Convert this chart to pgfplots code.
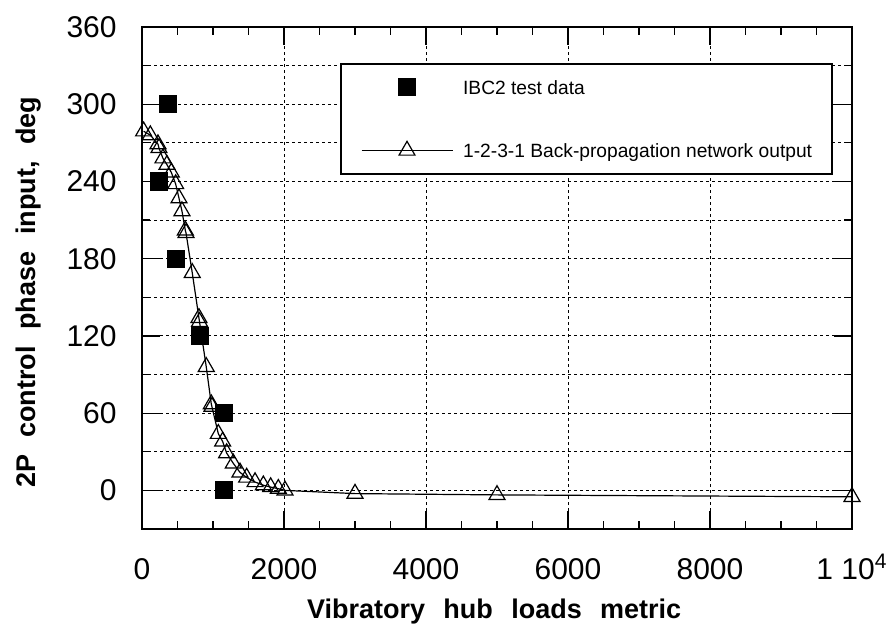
\documentclass[border=0pt]{standalone}
\usepackage{fontspec}
\setmainfont{Liberation Sans}
\usepackage{pgfplots}
\pgfplotsset{compat=1.18}
\begin{document}
\begin{tikzpicture}
\path[use as bounding box] (0,0) rectangle (447pt,313.5pt);
\begin{axis}[
  at={(71pt,49pt)}, anchor=south west,
  scale only axis, width=355pt, height=251pt,
  xmin=0, xmax=10000, ymin=-30, ymax=360,
  xtick={0,2000,4000,6000,8000,10000},
  xticklabels={0,2000,4000,6000,8000,{1 10\textsuperscript{4}}},
  minor xtick={500,1000,...,9500},
  ytick={0,60,...,360},
  yticklabels={0,60,120,180,240,300,360},
  minor ytick={-30,30,90,150,210,270,330},
  tick align=inside,
  major tick length=9pt, minor tick length=4pt,
  every tick/.style={black, line width=0.6pt},
  axis line style={black, line width=0.9pt},
  xmajorgrids, ymajorgrids, yminorgrids,
  grid style={black, line width=0.5pt, dash pattern=on 1.5pt off 1.5pt},
  minor grid style={black, line width=0.5pt, dash pattern=on 1.5pt off 1.5pt},
  ticklabel style={font=\fontsize{15}{18}\selectfont},
  xticklabel style={anchor=base, inner sep=0pt, yshift=-25pt},
  yticklabel style={anchor=east, inner sep=0pt, xshift=-12.5pt},
  xlabel={Vibratory\hspace{0.68em}hub\hspace{0.68em}loads\hspace{0.68em}metric},
  ylabel={2P\hspace{0.62em}control\hspace{0.62em}phase\hspace{0.62em}input,\hspace{0.62em}deg},
  xlabel style={at={(axis description cs:0.496,-0.1773)}, anchor=base, font=\bfseries\fontsize{13.5}{16}\selectfont},
  ylabel style={at={(axis description cs:-0.1507,0.472)}, anchor=base, font=\bfseries\fontsize{13.5}{16}\selectfont},
  legend image code/.code={\draw[mark repeat=2,mark phase=2,#1] plot coordinates {(0pt,0pt)(22.75pt,0pt)(45.5pt,0pt)};},
  legend cell align=left,
  legend style={at={(axis cs:2789,332)}, anchor=north west, draw=black, line width=0.9pt, fill=white,
    font=\fontsize{9.6}{11}\selectfont, inner xsep=10pt, inner ysep=6pt,
    row sep=20.65pt, column sep=5pt,
    nodes={inner sep=0pt, text height=9.05pt, text depth=2.05pt}},
]
\addplot[only marks, mark=square*, mark size=4.25pt, black, line width=0.6pt] coordinates {
(366,300) (240,240) (474,180) (812,120) (1150,60) (1152,0)
};
\addlegendentry{IBC2 test data}
\addplot[black, line width=0.6pt, mark=triangle, mark size=4.6pt, mark options={solid, line width=0.6pt}] coordinates {
(23,279) (117,276) (225,269) (239,266) (295,258) (352,253) (413,247) (474,238)
(521,227) (563,217) (610,202) (620,200) (708,169) (802,134) (810,131) (905,96)
(976,67) (985,65) (1075,44) (1136,38) (1192,29) (1286,21) (1380,14) (1474,10)
(1592,6.5) (1709,4) (1812,2.6) (1920,1.3) (2014,0) (3000,-2.5) (5000,-3.5) (10000,-5)
};
\addlegendentry{1-2-3-1 Back-propagation network output}
\end{axis}
\end{tikzpicture}
\end{document}
